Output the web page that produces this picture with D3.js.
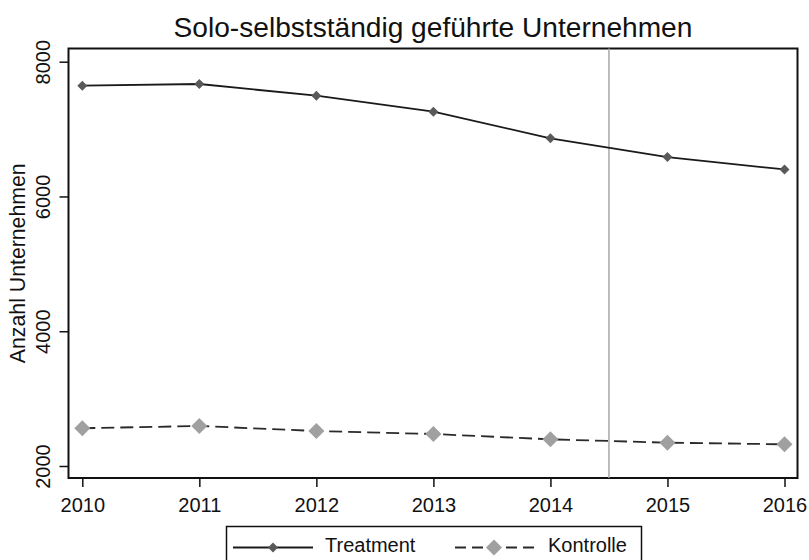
<!DOCTYPE html>
<html>
<head>
<meta charset="utf-8">
<script src="https://cdn.jsdelivr.net/npm/d3@7"></script>
<style>
	body { margin: 0; background: #fff; }
	text { font-family: "Liberation Sans", Arial, sans-serif; fill: #111; }
</style>
</head>
<body>
<div id="chart"></div>
<script>
// Data
var years = [2010, 2011, 2012, 2013, 2014, 2015, 2016];
var treatment = [7644, 7669, 7495, 7258, 6863, 6584, 6401];
var kontrolle = [2560, 2594, 2519, 2475, 2396, 2346, 2322];
var yTicks = [2000, 4000, 6000, 8000];
var cutYear = 2014.5;
var titleText = "Solo-selbstständig geführte Unternehmen";
var yLabel = "Anzahl Unternehmen";
var seriesNames = ["Treatment", "Kontrolle"];

var W = 809, H = 560;
var frame = { left: 68.5, right: 797.5, top: 48.5, bottom: 478 };

var svg = d3.select("#chart")
	.append("svg")
	.attr("width", W)
	.attr("height", H);

// scales
var x = d3.scaleLinear()
	.domain([2010, 2016])
	.range([82.3, 784.5]);

var y = d3.scaleLinear()
	.domain([2000, 8000])
	.range([466, 61.7]);

// title, fitted to the width seen in the reference
var title = svg.append("text")
	.attr("x", (frame.left + frame.right) / 2)
	.attr("y", 37)
	.attr("text-anchor", "middle")
	.style("font-size", "24px")
	.text(titleText);
var tw = title.node().getComputedTextLength();
title.style("font-size", (24 * 519 / tw) + "px");

// plot frame
svg.append("rect")
	.attr("x", frame.left)
	.attr("y", frame.top)
	.attr("width", frame.right - frame.left)
	.attr("height", frame.bottom - frame.top)
	.attr("fill", "none")
	.attr("stroke", "#111")
	.attr("stroke-width", 2);

// y axis
var gY = svg.append("g")
	.attr("transform", "translate(" + frame.left + ",0)")
	.call(d3.axisLeft(y).tickValues(yTicks).tickSize(9).tickFormat(d3.format("d")));
gY.select(".domain").remove();
gY.selectAll(".tick line").attr("stroke", "#111").attr("stroke-width", 1.5);
gY.selectAll(".tick text")
	.attr("transform", "rotate(-90)")
	.attr("x", 0)
	.attr("y", -18.5)
	.attr("dy", 0)
	.attr("text-anchor", "middle")
	.style("font-size", "20px")
	.style("font-family", "'Liberation Sans', Arial, sans-serif")
	.attr("fill", "#111");

// y axis title, fitted to ~200px long
var yt = svg.append("text")
	.attr("transform", "translate(25," + ((frame.top + frame.bottom) / 2) + ") rotate(-90)")
	.attr("text-anchor", "middle")
	.style("font-size", "20px")
	.text(yLabel);
var yw = yt.node().getComputedTextLength();
yt.style("font-size", (20 * 200 / yw) + "px");

// x axis
var gX = svg.append("g")
	.attr("transform", "translate(0," + frame.bottom + ")")
	.call(d3.axisBottom(x).tickValues(years).tickSize(9).tickFormat(d3.format("d")));
gX.select(".domain").remove();
gX.selectAll(".tick line").attr("stroke", "#111").attr("stroke-width", 1.5);
gX.selectAll(".tick text")
	.attr("y", 20)
	.style("font-size", "20px")
	.style("font-family", "'Liberation Sans', Arial, sans-serif")
	.attr("fill", "#111");

// vertical reference line
svg.append("line")
	.attr("x1", x(cutYear))
	.attr("x2", x(cutYear))
	.attr("y1", frame.top)
	.attr("y2", frame.bottom)
	.attr("stroke", "#a8a8a8")
	.attr("stroke-width", 1.5);

// lines
var line = d3.line()
	.x(function(d, i) { return x(years[i]); })
	.y(function(d) { return y(d); });

svg.append("path")
	.datum(kontrolle)
	.attr("d", line)
	.attr("fill", "none")
	.attr("stroke", "#2a2a2a")
	.attr("stroke-width", 1.8)
	.attr("stroke-dasharray", "13,6");

svg.append("path")
	.datum(treatment)
	.attr("d", line)
	.attr("fill", "none")
	.attr("stroke", "#1a1a1a")
	.attr("stroke-width", 1.8);

// markers
var diamond = function(r) {
	return "M0," + (-r) + "L" + r + ",0L0," + r + "L" + (-r) + ",0Z";
};

svg.selectAll(".mk-t")
	.data(treatment)
	.enter().append("path")
	.attr("class", "mk-t")
	.attr("transform", function(d, i) { return "translate(" + x(years[i]) + "," + y(d) + ")"; })
	.attr("d", diamond(5))
	.attr("fill", "#595959");

svg.selectAll(".mk-k")
	.data(kontrolle)
	.enter().append("path")
	.attr("class", "mk-k")
	.attr("transform", function(d, i) { return "translate(" + x(years[i]) + "," + y(d) + ")"; })
	.attr("d", diamond(8))
	.attr("fill", "#a0a0a0");

// legend
var legend = svg.append("g");
legend.append("rect")
	.attr("x", 226.5)
	.attr("y", 526.5)
	.attr("width", 415)
	.attr("height", 45)
	.attr("fill", "#fff")
	.attr("stroke", "#111")
	.attr("stroke-width", 1.5);

var ly = 547.5;
legend.append("line")
	.attr("x1", 233).attr("x2", 313)
	.attr("y1", ly).attr("y2", ly)
	.attr("stroke", "#1a1a1a").attr("stroke-width", 1.8);
legend.append("path")
	.attr("transform", "translate(273," + ly + ")")
	.attr("d", diamond(5))
	.attr("fill", "#595959");
legend.append("text")
	.attr("x", 325).attr("y", 552)
	.style("font-size", "20px")
	.text(seriesNames[0]);

legend.append("line")
	.attr("x1", 455).attr("x2", 536)
	.attr("y1", ly).attr("y2", ly)
	.attr("stroke", "#2a2a2a").attr("stroke-width", 1.8)
	.attr("stroke-dasharray", "11,6");
legend.append("path")
	.attr("transform", "translate(494," + ly + ")")
	.attr("d", diamond(8))
	.attr("fill", "#a0a0a0");
legend.append("text")
	.attr("x", 548).attr("y", 552)
	.style("font-size", "20px")
	.text(seriesNames[1]);
</script>
</body>
</html>
